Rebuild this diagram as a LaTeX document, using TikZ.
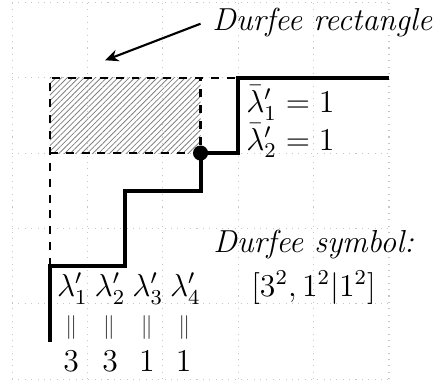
\documentclass[tikz,border=0pt]{standalone}
\usepackage{graphicx}
\usetikzlibrary{patterns.meta,arrows.meta}
\begin{document}
\begin{tikzpicture}[x=0.5cm,y=0.5cm,
  font=\large,
  gridline/.style={gray!45,dotted,line width=0.4pt},
  stair/.style={line width=1.5pt},
  dashline/.style={dashed,line width=0.8pt},
  hatch/.style={pattern={Lines[angle=45,distance=1.5pt,line width=0.3pt]},pattern color=gray},
  lbl/.style={anchor=base,inner sep=0pt},
  eqbar/.style={inner sep=0pt,text=black!75,font=\small}]
\useasboundingbox (-0.32,-0.05) rectangle (11.22,10.06);
\draw[gridline] (0,0) grid (10,10);
% Durfee rectangle
\fill[hatch] (1,6) rectangle (5,8);
\coordinate (r1) at (1,3);
\coordinate (r2) at (1,8);
\coordinate (r3) at (6,8);
\coordinate (r4) at (1,6);
\coordinate (r5) at (5,6);
\coordinate (r6) at (5,8);
\draw[dashline] (r1) -- (r2) -- (r3);
\draw[dashline] (r4) -- (r5) -- (r6);
% staircase
\coordinate (s0) at (1,1);
\coordinate (s1) at (1,3);
\coordinate (s2) at (3,3);
\coordinate (s3) at (3,5);
\coordinate (s4) at (5,5);
\coordinate (s5) at (5,6);
\coordinate (s6) at (6,6);
\coordinate (s7) at (6,8);
\coordinate (s8) at (10,8);
\draw[stair] (s0) -- (s1) -- (s2) -- (s3) -- (s4) -- (s5) -- (s6) -- (s7) -- (s8);
\fill (s5) circle (0.2);
% labels
\node[lbl,anchor=base west] (lb1) at (6.2,7.08) {$\bar\lambda'_1=1$};
\node[lbl,anchor=base west] (lb2) at (6.2,6.08) {$\bar\lambda'_2=1$};
\node[lbl,anchor=base west] (dr) at (5.3,9.24) {\textit{Durfee rectangle}};
\coordinate (aS) at (5,9.43);
\coordinate (aE) at (2.47,8.46);
\draw[-{Stealth[length=5pt,width=4.5pt]},line width=0.8pt] (aS) -- (aE);
% column labels
\node[lbl] (l1) at (1.6,2.2) {$\lambda'_1$};
\node[lbl] (l2) at (2.6,2.2) {$\lambda'_2$};
\node[lbl] (l3) at (3.6,2.2) {$\lambda'_3$};
\node[lbl] (l4) at (4.6,2.2) {$\lambda'_4$};
\node[eqbar] (e1) at (1.57,1.37) {$\Vert$};
\node[eqbar] (e2) at (2.57,1.37) {$\Vert$};
\node[eqbar] (e3) at (3.57,1.37) {$\Vert$};
\node[eqbar] (e4) at (4.57,1.37) {$\Vert$};
\node[lbl] (n1) at (1.57,0.2) {$3$};
\node[lbl] (n2) at (2.6,0.2) {$3$};
\node[lbl] (n3) at (3.58,0.2) {$1$};
\node[lbl] (n4) at (4.55,0.2) {$1$};
% Durfee symbol
\node[lbl] (ds1) at (8,3.35) {\textit{Durfee symbol:}};
\node[lbl] (ds2) at (8,2.2) {$[3^2,1^2|1^2]$};
\end{tikzpicture}
\end{document}
